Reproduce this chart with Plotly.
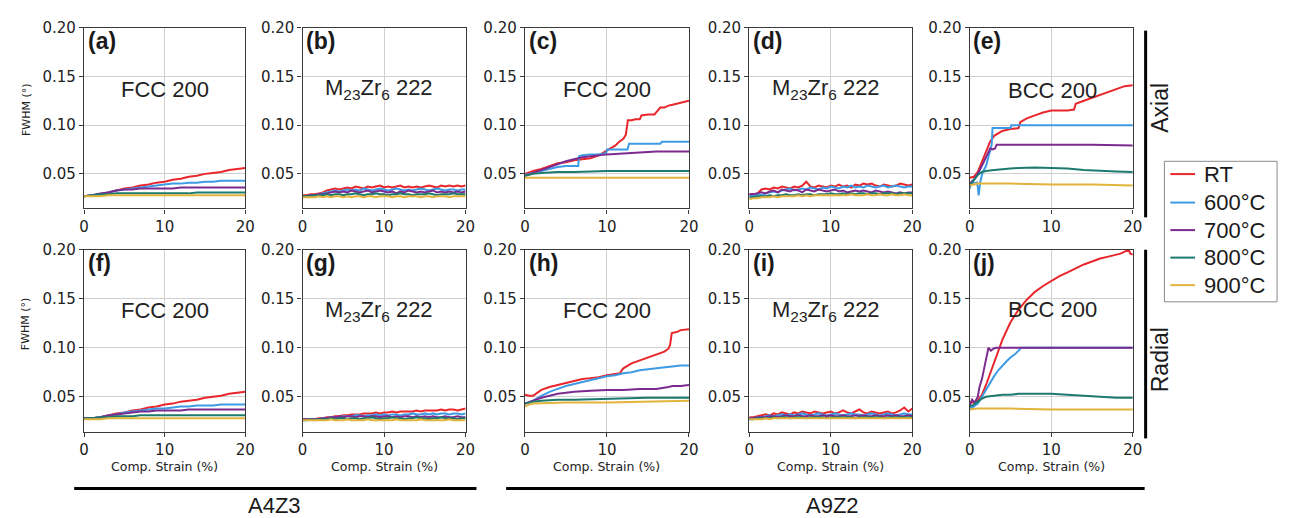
import plotly.graph_objects as go

# ---------------- data ----------------
series_names = ["RT", "600°C", "700°C", "800°C", "900°C"]
series_colors = ["#e8262b", "#3d9be6", "#7b2a8e", "#1d7a6e", "#e3b43c"]

strain21 = [0, 1, 2, 3, 4, 5, 6, 7, 8, 9, 10, 11, 12, 13, 14, 15, 16, 17, 18, 19, 20]
strain41 = [0, 0.5, 1, 1.5, 2, 2.5, 3, 3.5, 4, 4.5, 5, 5.5, 6, 6.5, 7, 7.5, 8, 8.5, 9, 9.5, 10,
            10.5, 11, 11.5, 12, 12.5, 13, 13.5, 14, 14.5, 15, 15.5, 16, 16.5, 17, 17.5, 18, 18.5, 19, 19.5, 20]

# (a) A4Z3 FCC 200 axial
a_rt = [0.027, 0.028, 0.029, 0.031, 0.033, 0.035, 0.036, 0.038, 0.039, 0.041, 0.042, 0.044, 0.045, 0.047, 0.048, 0.050, 0.051, 0.052, 0.054, 0.055, 0.056]
a_600 = [0.027, 0.028, 0.029, 0.031, 0.033, 0.034, 0.035, 0.036, 0.037, 0.038, 0.039, 0.040, 0.040, 0.041, 0.041, 0.042, 0.042, 0.043, 0.043, 0.043, 0.043]
a_700 = [0.027, 0.028, 0.030, 0.031, 0.033, 0.034, 0.034, 0.035, 0.035, 0.035, 0.035, 0.035, 0.036, 0.036, 0.036, 0.036, 0.036, 0.036, 0.036, 0.036, 0.036]
a_800 = [0.027, 0.028, 0.029, 0.029, 0.030, 0.030, 0.030, 0.030, 0.030, 0.030, 0.030, 0.030, 0.030, 0.030, 0.031, 0.031, 0.031, 0.031, 0.031, 0.031, 0.031]
a_900 = [0.027, 0.027, 0.027, 0.028, 0.028, 0.028, 0.028, 0.028, 0.028, 0.028, 0.028, 0.028, 0.028, 0.028, 0.028, 0.028, 0.028, 0.028, 0.028, 0.028, 0.028]

# (f) A4Z3 FCC 200 radial
f_rt = [0.028, 0.028, 0.029, 0.031, 0.033, 0.034, 0.036, 0.037, 0.039, 0.040, 0.042, 0.043, 0.045, 0.046, 0.047, 0.049, 0.050, 0.051, 0.053, 0.054, 0.055]
f_600 = [0.028, 0.028, 0.029, 0.031, 0.032, 0.034, 0.035, 0.036, 0.037, 0.038, 0.038, 0.039, 0.040, 0.040, 0.041, 0.041, 0.041, 0.042, 0.042, 0.042, 0.042]
f_700 = [0.028, 0.028, 0.029, 0.031, 0.032, 0.033, 0.034, 0.035, 0.035, 0.036, 0.036, 0.036, 0.036, 0.037, 0.037, 0.037, 0.037, 0.037, 0.037, 0.037, 0.037]
f_800 = [0.028, 0.028, 0.029, 0.029, 0.030, 0.030, 0.030, 0.031, 0.031, 0.031, 0.031, 0.031, 0.031, 0.031, 0.031, 0.031, 0.031, 0.031, 0.031, 0.031, 0.031]
f_900 = [0.027, 0.027, 0.027, 0.028, 0.028, 0.028, 0.028, 0.028, 0.028, 0.028, 0.028, 0.028, 0.028, 0.028, 0.028, 0.028, 0.028, 0.028, 0.028, 0.028, 0.028]

# (b) A4Z3 M23Zr6 222 axial
b_rt = [0.028, 0.028, 0.029, 0.029, 0.030, 0.031, 0.033, 0.034, 0.035, 0.034, 0.035, 0.036, 0.035, 0.037, 0.036, 0.035, 0.037, 0.036, 0.037, 0.038, 0.036,
        0.037, 0.036, 0.037, 0.038, 0.036, 0.037, 0.036, 0.037, 0.036, 0.037, 0.038, 0.037, 0.036, 0.038, 0.037, 0.038, 0.037, 0.038, 0.037, 0.038]
b_600 = [0.027, 0.027, 0.028, 0.028, 0.029, 0.030, 0.031, 0.032, 0.033, 0.032, 0.033, 0.034, 0.033, 0.034, 0.033, 0.035, 0.034, 0.033, 0.034, 0.035, 0.034,
         0.033, 0.034, 0.035, 0.034, 0.033, 0.034, 0.033, 0.034, 0.035, 0.034, 0.033, 0.034, 0.035, 0.034, 0.033, 0.034, 0.034, 0.033, 0.034, 0.034]
b_700 = [0.027, 0.027, 0.028, 0.028, 0.029, 0.029, 0.030, 0.031, 0.032, 0.031, 0.032, 0.031, 0.033, 0.032, 0.031, 0.032, 0.033, 0.031, 0.032, 0.033, 0.032,
         0.031, 0.032, 0.030, 0.032, 0.031, 0.033, 0.032, 0.031, 0.032, 0.031, 0.032, 0.033, 0.031, 0.032, 0.031, 0.032, 0.031, 0.032, 0.031, 0.032]
b_800 = [0.027, 0.027, 0.027, 0.028, 0.028, 0.028, 0.029, 0.028, 0.029, 0.029, 0.028, 0.029, 0.029, 0.030, 0.029, 0.028, 0.029, 0.029, 0.030, 0.029, 0.029,
         0.028, 0.029, 0.029, 0.030, 0.029, 0.029, 0.028, 0.029, 0.029, 0.029, 0.030, 0.029, 0.028, 0.029, 0.029, 0.029, 0.030, 0.029, 0.029, 0.029]
b_900 = [0.026, 0.026, 0.026, 0.026, 0.027, 0.026, 0.027, 0.026, 0.027, 0.027, 0.026, 0.027, 0.026, 0.027, 0.027, 0.026, 0.027, 0.027, 0.026, 0.027, 0.027,
         0.027, 0.026, 0.027, 0.027, 0.026, 0.027, 0.027, 0.027, 0.026, 0.027, 0.027, 0.026, 0.027, 0.027, 0.027, 0.026, 0.027, 0.027, 0.027, 0.027]

# (g) A4Z3 M23Zr6 222 radial
g_rt = [0.027, 0.027, 0.027, 0.027, 0.028, 0.028, 0.029, 0.029, 0.030, 0.030, 0.031, 0.031, 0.032, 0.032, 0.032, 0.033, 0.033, 0.033, 0.034, 0.033, 0.034,
        0.034, 0.035, 0.034, 0.035, 0.035, 0.035, 0.035, 0.036, 0.035, 0.036, 0.036, 0.036, 0.036, 0.037, 0.036, 0.037, 0.037, 0.036, 0.037, 0.038]
g_600 = [0.027, 0.027, 0.027, 0.027, 0.027, 0.028, 0.028, 0.029, 0.029, 0.029, 0.030, 0.030, 0.030, 0.031, 0.031, 0.030, 0.031, 0.031, 0.032, 0.031, 0.032,
         0.031, 0.032, 0.032, 0.031, 0.032, 0.032, 0.033, 0.032, 0.032, 0.033, 0.032, 0.033, 0.032, 0.033, 0.033, 0.032, 0.033, 0.033, 0.032, 0.033]
g_700 = [0.027, 0.027, 0.027, 0.027, 0.027, 0.028, 0.028, 0.029, 0.029, 0.030, 0.029, 0.030, 0.030, 0.029, 0.030, 0.030, 0.029, 0.030, 0.030, 0.029, 0.030,
         0.030, 0.029, 0.030, 0.029, 0.030, 0.030, 0.029, 0.030, 0.029, 0.030, 0.029, 0.030, 0.029, 0.029, 0.030, 0.029, 0.029, 0.030, 0.029, 0.029]
g_800 = [0.026, 0.026, 0.027, 0.026, 0.027, 0.027, 0.027, 0.028, 0.027, 0.028, 0.028, 0.027, 0.028, 0.028, 0.027, 0.028, 0.028, 0.029, 0.028, 0.027, 0.028,
         0.028, 0.029, 0.028, 0.028, 0.027, 0.028, 0.028, 0.029, 0.028, 0.028, 0.027, 0.028, 0.028, 0.029, 0.028, 0.028, 0.028, 0.027, 0.028, 0.028]
g_900 = [0.026, 0.026, 0.026, 0.026, 0.026, 0.026, 0.026, 0.027, 0.026, 0.026, 0.026, 0.027, 0.026, 0.026, 0.026, 0.026, 0.027, 0.026, 0.026, 0.026, 0.026,
         0.026, 0.026, 0.027, 0.026, 0.026, 0.026, 0.026, 0.026, 0.027, 0.026, 0.026, 0.026, 0.026, 0.026, 0.026, 0.027, 0.026, 0.026, 0.026, 0.026]

# (d) A9Z2 M23Zr6 222 axial
d_rt = [0.029, 0.029, 0.030, 0.034, 0.035, 0.034, 0.036, 0.035, 0.037, 0.036, 0.035, 0.037, 0.036, 0.038, 0.042, 0.037, 0.036, 0.038, 0.037, 0.036, 0.038,
        0.037, 0.039, 0.037, 0.038, 0.036, 0.039, 0.038, 0.040, 0.039, 0.040, 0.038, 0.037, 0.039, 0.038, 0.037, 0.038, 0.040, 0.039, 0.038, 0.039]
d_600 = [0.028, 0.027, 0.029, 0.028, 0.030, 0.031, 0.032, 0.031, 0.033, 0.034, 0.035, 0.033, 0.034, 0.035, 0.034, 0.036, 0.035, 0.034, 0.036, 0.035, 0.037,
         0.036, 0.035, 0.037, 0.036, 0.038, 0.036, 0.037, 0.036, 0.038, 0.037, 0.036, 0.037, 0.038, 0.036, 0.037, 0.038, 0.037, 0.036, 0.037, 0.037]
d_700 = [0.029, 0.029, 0.030, 0.031, 0.030, 0.032, 0.033, 0.031, 0.034, 0.033, 0.032, 0.034, 0.033, 0.031, 0.034, 0.033, 0.032, 0.034, 0.033, 0.032, 0.033,
         0.034, 0.032, 0.033, 0.031, 0.032, 0.033, 0.032, 0.033, 0.032, 0.031, 0.033, 0.032, 0.031, 0.032, 0.031, 0.030, 0.031, 0.030, 0.031, 0.031]
d_800 = [0.026, 0.026, 0.027, 0.027, 0.027, 0.028, 0.027, 0.028, 0.028, 0.029, 0.028, 0.028, 0.029, 0.028, 0.029, 0.029, 0.028, 0.029, 0.029, 0.029, 0.030,
         0.029, 0.029, 0.030, 0.029, 0.030, 0.029, 0.030, 0.030, 0.029, 0.030, 0.030, 0.029, 0.030, 0.030, 0.030, 0.029, 0.030, 0.030, 0.030, 0.030]
d_900 = [0.024, 0.025, 0.025, 0.026, 0.026, 0.026, 0.027, 0.026, 0.027, 0.027, 0.027, 0.027, 0.028, 0.027, 0.028, 0.027, 0.028, 0.028, 0.028, 0.028, 0.028,
         0.028, 0.028, 0.028, 0.028, 0.029, 0.028, 0.028, 0.028, 0.029, 0.028, 0.028, 0.029, 0.028, 0.028, 0.029, 0.028, 0.028, 0.029, 0.028, 0.028]

# (i) A9Z2 M23Zr6 222 radial
i_rt = [0.029, 0.029, 0.030, 0.031, 0.032, 0.031, 0.033, 0.032, 0.034, 0.033, 0.032, 0.034, 0.033, 0.035, 0.034, 0.033, 0.035, 0.034, 0.033, 0.034, 0.035,
        0.033, 0.034, 0.036, 0.034, 0.033, 0.035, 0.037, 0.034, 0.033, 0.035, 0.034, 0.033, 0.034, 0.035, 0.033, 0.034, 0.036, 0.039, 0.035, 0.038]
i_600 = [0.028, 0.028, 0.029, 0.029, 0.030, 0.031, 0.030, 0.031, 0.032, 0.031, 0.032, 0.031, 0.032, 0.033, 0.032, 0.031, 0.032, 0.033, 0.032, 0.031, 0.032,
         0.033, 0.032, 0.031, 0.032, 0.033, 0.032, 0.032, 0.031, 0.032, 0.033, 0.032, 0.031, 0.032, 0.033, 0.032, 0.031, 0.032, 0.033, 0.032, 0.032]
i_700 = [0.028, 0.028, 0.029, 0.029, 0.029, 0.030, 0.030, 0.029, 0.030, 0.031, 0.030, 0.030, 0.031, 0.030, 0.030, 0.031, 0.030, 0.030, 0.031, 0.030, 0.031,
         0.030, 0.030, 0.031, 0.030, 0.030, 0.031, 0.030, 0.031, 0.030, 0.030, 0.031, 0.030, 0.030, 0.031, 0.030, 0.031, 0.030, 0.030, 0.031, 0.030]
i_800 = [0.027, 0.027, 0.028, 0.028, 0.028, 0.028, 0.029, 0.028, 0.029, 0.029, 0.028, 0.029, 0.029, 0.029, 0.028, 0.029, 0.029, 0.029, 0.029, 0.028, 0.029,
         0.029, 0.029, 0.029, 0.029, 0.029, 0.028, 0.029, 0.029, 0.029, 0.029, 0.029, 0.029, 0.028, 0.029, 0.029, 0.029, 0.029, 0.029, 0.029, 0.029]
i_900 = [0.027, 0.027, 0.027, 0.027, 0.028, 0.027, 0.028, 0.028, 0.028, 0.028, 0.028, 0.028, 0.028, 0.028, 0.028, 0.028, 0.028, 0.028, 0.028, 0.028, 0.028,
         0.028, 0.028, 0.028, 0.028, 0.028, 0.028, 0.028, 0.028, 0.028, 0.028, 0.028, 0.028, 0.028, 0.028, 0.028, 0.028, 0.028, 0.028, 0.028, 0.028]

# (c) A9Z2 FCC 200 axial
c_rt_x = [0, 1, 2, 3, 4, 5, 6, 7, 8, 9, 10, 10.5, 11, 11.5, 12, 12.3, 12.55, 13, 13.5, 14, 14.2, 15, 15.8, 16, 16.5, 17, 17.5, 18, 18.5, 19, 19.5, 20]
c_rt_y = [0.050, 0.053, 0.055, 0.058, 0.061, 0.062, 0.064, 0.065, 0.066, 0.069, 0.074, 0.076, 0.079, 0.083, 0.086, 0.090, 0.105, 0.105, 0.106, 0.106, 0.110,
          0.111, 0.111, 0.113, 0.118, 0.118, 0.120, 0.121, 0.122, 0.123, 0.124, 0.125]
c_600_x = [0, 1, 2, 3, 4, 5, 6, 6.5, 6.6, 7, 8, 9, 9.7, 9.9, 10, 12.5, 12.7, 16.5, 16.7, 20]
c_600_y = [0.049, 0.051, 0.053, 0.055, 0.057, 0.058, 0.058, 0.058, 0.068, 0.069, 0.070, 0.070, 0.071, 0.071, 0.075, 0.075, 0.081, 0.081, 0.083, 0.083]
c_700_x = [0, 1, 2, 3, 4, 5, 6, 7, 8, 9, 10, 12, 14, 16, 18, 20]
c_700_y = [0.048, 0.051, 0.054, 0.057, 0.060, 0.063, 0.065, 0.067, 0.068, 0.069, 0.070, 0.071, 0.072, 0.073, 0.073, 0.073]
c_800_x = [0, 1, 2, 4, 6, 10, 15, 20]
c_800_y = [0.048, 0.050, 0.051, 0.052, 0.052, 0.053, 0.053, 0.053]
c_900_x = [0, 5, 10, 15, 20]
c_900_y = [0.046, 0.046, 0.046, 0.046, 0.046]

# (h) A9Z2 FCC 200 radial
h_rt_x = [0, 0.5, 1, 1.5, 2, 3, 4, 5, 6, 7, 8, 9, 10, 11, 11.6, 11.8, 12, 13, 14, 15, 16, 17, 17.5, 17.7, 17.9, 18.5, 19, 20]
h_rt_y = [0.052, 0.051, 0.051, 0.054, 0.057, 0.060, 0.062, 0.064, 0.066, 0.068, 0.069, 0.070, 0.072, 0.073, 0.074, 0.077, 0.079, 0.084, 0.087, 0.090,
          0.093, 0.096, 0.099, 0.103, 0.115, 0.116, 0.118, 0.119]
h_600_x = [0, 1, 2, 3, 4, 5, 6, 7, 8, 9, 10, 11, 12, 13, 14, 15, 16, 17, 18, 19, 20]
h_600_y = [0.043, 0.046, 0.051, 0.055, 0.058, 0.061, 0.063, 0.065, 0.067, 0.069, 0.071, 0.072, 0.074, 0.075, 0.077, 0.078, 0.079, 0.080, 0.081, 0.082, 0.082]
h_700_x = [0, 1, 2, 3, 4, 5, 6, 8, 10, 12, 14, 16, 17, 17.5, 18, 19, 20]
h_700_y = [0.043, 0.046, 0.049, 0.051, 0.053, 0.054, 0.055, 0.056, 0.057, 0.057, 0.058, 0.058, 0.059, 0.060, 0.061, 0.061, 0.062]
h_800_x = [0, 1, 2, 4, 6, 10, 15, 20]
h_800_y = [0.043, 0.045, 0.046, 0.047, 0.047, 0.048, 0.049, 0.049]
h_900_x = [0, 0.5, 1, 5, 10, 15, 20]
h_900_y = [0.040, 0.042, 0.043, 0.044, 0.044, 0.045, 0.046]

# (e) A9Z2 BCC 200 axial
e_rt_x = [0, 0.5, 1, 1.5, 2, 2.5, 3, 4, 5, 6, 6.2, 7, 8, 9, 10, 11, 12, 12.8, 13, 14, 15, 16, 17, 18, 19, 20]
e_rt_y = [0.046, 0.047, 0.052, 0.062, 0.073, 0.083, 0.089, 0.094, 0.096, 0.097, 0.103, 0.107, 0.110, 0.113, 0.115, 0.115, 0.115, 0.116, 0.122, 0.125,
          0.128, 0.131, 0.134, 0.137, 0.140, 0.141]
e_600_x = [0, 0.3, 0.6, 0.9, 1.0, 1.1, 1.3, 1.6, 2.0, 2.5, 2.7, 2.8, 3.5, 4.5, 5.0, 5.1, 20]
e_600_y = [0.035, 0.043, 0.040, 0.041, 0.036, 0.028, 0.042, 0.052, 0.058, 0.072, 0.080, 0.097, 0.097, 0.097, 0.097, 0.100, 0.100]
e_700_x = [0, 0.5, 1, 1.5, 2, 2.5, 2.8, 3.1, 3.3, 6, 10, 15, 20]
e_700_y = [0.040, 0.044, 0.050, 0.058, 0.067, 0.076, 0.075, 0.076, 0.080, 0.080, 0.080, 0.080, 0.079]
e_800_x = [0, 0.5, 1, 1.5, 2, 3, 4, 5, 6, 8, 10, 12, 14, 16, 18, 20]
e_800_y = [0.038, 0.044, 0.049, 0.052, 0.053, 0.054, 0.055, 0.0555, 0.056, 0.0565, 0.056, 0.0555, 0.054, 0.053, 0.0525, 0.052]
e_900_x = [0, 1, 5, 10, 15, 20]
e_900_y = [0.038, 0.040, 0.040, 0.039, 0.039, 0.038]

# (j) A9Z2 BCC 200 radial
j_rt_x = [0, 0.5, 1, 1.5, 2, 2.5, 3, 3.5, 4, 5, 6, 7, 8, 9, 10, 11, 12, 13, 14, 15, 16, 17, 18, 18.5, 19, 19.5, 19.7, 20]
j_rt_y = [0.045, 0.044, 0.046, 0.052, 0.062, 0.073, 0.085, 0.097, 0.108, 0.126, 0.139, 0.149, 0.157, 0.163, 0.168, 0.173, 0.177, 0.181, 0.185, 0.188,
          0.191, 0.193, 0.195, 0.196, 0.198, 0.200, 0.196, 0.195]
j_600_x = [0, 0.5, 1, 1.5, 2, 2.5, 3, 3.5, 4, 4.5, 5, 5.5, 6, 6.3, 20]
j_600_y = [0.038, 0.040, 0.043, 0.050, 0.058, 0.065, 0.071, 0.077, 0.082, 0.086, 0.090, 0.093, 0.097, 0.100, 0.100]
j_700_x = [0, 0.3, 0.6, 1, 1.2, 1.5, 1.8, 2.1, 2.3, 2.6, 2.9, 3.2, 20]
j_700_y = [0.041, 0.047, 0.044, 0.050, 0.060, 0.068, 0.080, 0.092, 0.100, 0.097, 0.099, 0.100, 0.100]
j_800_x = [0, 0.5, 1, 1.5, 2, 3, 4, 5, 6, 8, 10, 12, 14, 16, 18, 20]
j_800_y = [0.040, 0.042, 0.045, 0.048, 0.050, 0.051, 0.052, 0.052, 0.053, 0.053, 0.053, 0.052, 0.051, 0.050, 0.049, 0.049]
j_900_x = [0, 1, 5, 10, 15, 20]
j_900_y = [0.037, 0.038, 0.038, 0.037, 0.037, 0.037]

panel_letters = ["(a)", "(b)", "(c)", "(d)", "(e)", "(f)", "(g)", "(h)", "(i)", "(j)"]
panel_titles = ["FCC 200", "M<sub>23</sub>Zr<sub>6</sub> 222", "FCC 200", "M<sub>23</sub>Zr<sub>6</sub> 222", "BCC 200",
                "FCC 200", "M<sub>23</sub>Zr<sub>6</sub> 222", "FCC 200", "M<sub>23</sub>Zr<sub>6</sub> 222", "BCC 200"]
x_ticks = [0, 10, 20]
y_ticks = [0.05, 0.10, 0.15, 0.20]
y_ticktext = ["0.05", "0.10", "0.15", "0.20"]

panels = [
    [(strain21, a_rt), (strain21, a_600), (strain21, a_700), (strain21, a_800), (strain21, a_900)],
    [(strain41, b_rt), (strain41, b_600), (strain41, b_700), (strain41, b_800), (strain41, b_900)],
    [(c_rt_x, c_rt_y), (c_600_x, c_600_y), (c_700_x, c_700_y), (c_800_x, c_800_y), (c_900_x, c_900_y)],
    [(strain41, d_rt), (strain41, d_600), (strain41, d_700), (strain41, d_800), (strain41, d_900)],
    [(e_rt_x, e_rt_y), (e_600_x, e_600_y), (e_700_x, e_700_y), (e_800_x, e_800_y), (e_900_x, e_900_y)],
    [(strain21, f_rt), (strain21, f_600), (strain21, f_700), (strain21, f_800), (strain21, f_900)],
    [(strain41, g_rt), (strain41, g_600), (strain41, g_700), (strain41, g_800), (strain41, g_900)],
    [(h_rt_x, h_rt_y), (h_600_x, h_600_y), (h_700_x, h_700_y), (h_800_x, h_800_y), (h_900_x, h_900_y)],
    [(strain41, i_rt), (strain41, i_600), (strain41, i_700), (strain41, i_800), (strain41, i_900)],
    [(j_rt_x, j_rt_y), (j_600_x, j_600_y), (j_700_x, j_700_y), (j_800_x, j_800_y), (j_900_x, j_900_y)],
]

# ---------------- layout geometry (pixels) ----------------
W, H = 1295, 518
col_px = [(80, 243), (301, 466), (526, 692), (753, 918), (976, 1141)]
row_px = [(19, 203), (245, 430)]
title_pos = [(0.5, 0.66), (0.47, 0.66), (0.5, 0.66), (0.47, 0.66), (0.51, 0.655),
             (0.5, 0.665), (0.47, 0.665), (0.5, 0.665), (0.47, 0.665), (0.51, 0.67)]
legend_box = (1173, 155, 1287, 298)
legend_item_y = [168, 197, 225, 253, 281]

def px_x(p):
    return p / W

def px_y(p):
    return 1 - p / H

fig = go.Figure()
layout = dict(
    width=W, height=H, margin=dict(l=0, r=0, t=0, b=0),
    paper_bgcolor="white", plot_bgcolor="white",
    showlegend=False,
)
annotations = []
shapes = []

tick_font = dict(family="DejaVu Sans", size=15, color="#222")

for k in range(10):
    n = k + 1
    r, c = divmod(k, 5)
    xs = "x" if n == 1 else f"x{n}"
    ys = "y" if n == 1 else f"y{n}"
    xa = "xaxis" if n == 1 else f"xaxis{n}"
    ya = "yaxis" if n == 1 else f"yaxis{n}"
    layout[xa] = dict(domain=[px_x(col_px[c][0]), px_x(col_px[c][1])], anchor=ys,
                      range=[0, 20], tickvals=x_ticks, showgrid=True, gridcolor="#d0d0d0", gridwidth=1,
                      showline=True, mirror=True, linecolor="#3a3a3a", linewidth=1.3,
                      ticks="outside", ticklen=4, tickcolor="#3a3a3a", tickfont=tick_font, zeroline=False)
    layout[ya] = dict(domain=[px_y(row_px[r][1]), px_y(row_px[r][0])], anchor=xs,
                      range=[0.0145, 0.2], tickvals=y_ticks, ticktext=y_ticktext,
                      showgrid=True, gridcolor="#d0d0d0", gridwidth=1,
                      showline=True, mirror=True, linecolor="#3a3a3a", linewidth=1.3,
                      ticks="outside", ticklen=4, tickcolor="#3a3a3a", tickfont=tick_font, zeroline=False)
    for s, (xv, yv) in enumerate(panels[k]):
        fig.add_trace(go.Scatter(x=xv, y=yv, mode="lines", xaxis=xs, yaxis=ys,
                                 line=dict(color=series_colors[s], width=2),
                                 name=series_names[s], showlegend=False))
    annotations.append(dict(text=f"<b>{panel_letters[k]}</b>", xref=f"{xs} domain", yref=f"{ys} domain",
                            x=0.01, y=0.925, xanchor="left", yanchor="middle", showarrow=False,
                            font=dict(family="Liberation Sans, Arial", size=23, color="#1a1a1a")))
    annotations.append(dict(text=panel_titles[k], xref=f"{xs} domain", yref=f"{ys} domain",
                            x=title_pos[k][0], y=title_pos[k][1], xanchor="center", yanchor="middle",
                            showarrow=False, font=dict(family="Liberation Sans, Arial", size=22, color="#222")))
    if r == 1:
        annotations.append(dict(text="Comp. Strain (%)", xref="paper", yref="paper",
                                x=px_x((col_px[c][0] + col_px[c][1]) / 2), y=px_y(466),
                                xanchor="center", yanchor="middle", showarrow=False,
                                font=dict(family="DejaVu Sans", size=12.5, color="#222")))

# y axis titles
for ypix in (102, 320):
    annotations.append(dict(text="FWHM (°)", xref="paper", yref="paper", x=px_x(21), y=px_y(ypix),
                            textangle=-90, xanchor="center", yanchor="middle", showarrow=False,
                            font=dict(family="DejaVu Sans", size=11, color="#222")))

# legend (drawn by hand to match the reference spacing)
shapes.append(dict(type="rect", xref="paper", yref="paper",
                   x0=px_x(legend_box[0]), x1=px_x(legend_box[2]), y0=px_y(legend_box[3]), y1=px_y(legend_box[1]),
                   line=dict(color="#8a8a8a", width=1), fillcolor="white"))
for s in range(5):
    yy = legend_item_y[s]
    shapes.append(dict(type="line", xref="paper", yref="paper", x0=px_x(1179), x1=px_x(1204),
                       y0=px_y(yy), y1=px_y(yy), line=dict(color=series_colors[s], width=2)))
    annotations.append(dict(text=series_names[s], xref="paper", yref="paper", x=px_x(1211), y=px_y(yy),
                            xanchor="left", yanchor="middle", showarrow=False,
                            font=dict(family="Liberation Sans, Arial", size=22, color="#1a1a1a")))

# Axial / Radial labels with bars
annotations.append(dict(text="Axial", xref="paper", yref="paper", x=px_x(1169), y=px_y(100), textangle=-90,
                        xanchor="center", yanchor="middle", showarrow=False,
                        font=dict(family="Liberation Sans, Arial", size=23, color="#1a1a1a")))
annotations.append(dict(text="Radial", xref="paper", yref="paper", x=px_x(1168), y=px_y(357), textangle=-90,
                        xanchor="center", yanchor="middle", showarrow=False,
                        font=dict(family="Liberation Sans, Arial", size=23, color="#1a1a1a")))
shapes.append(dict(type="line", xref="paper", yref="paper", x0=px_x(1154), x1=px_x(1154), y0=px_y(22), y1=px_y(212),
                   line=dict(color="black", width=3)))
shapes.append(dict(type="line", xref="paper", yref="paper", x0=px_x(1154), x1=px_x(1154), y0=px_y(245), y1=px_y(437),
                   line=dict(color="black", width=3)))

# A4Z3 / A9Z2 group bars
shapes.append(dict(type="line", xref="paper", yref="paper", x0=px_x(70), x1=px_x(477), y0=px_y(488), y1=px_y(488),
                   line=dict(color="black", width=3)))
shapes.append(dict(type="line", xref="paper", yref="paper", x0=px_x(507), x1=px_x(1153), y0=px_y(488), y1=px_y(488),
                   line=dict(color="black", width=3)))
annotations.append(dict(text="A4Z3", xref="paper", yref="paper", x=px_x(273), y=px_y(505),
                        xanchor="center", yanchor="middle", showarrow=False,
                        font=dict(family="Liberation Sans, Arial", size=22, color="#1a1a1a")))
annotations.append(dict(text="A9Z2", xref="paper", yref="paper", x=px_x(837), y=px_y(505),
                        xanchor="center", yanchor="middle", showarrow=False,
                        font=dict(family="Liberation Sans, Arial", size=22, color="#1a1a1a")))

layout["annotations"] = annotations
layout["shapes"] = shapes
fig.update_layout(**layout)
fig.write_html("out.html")
